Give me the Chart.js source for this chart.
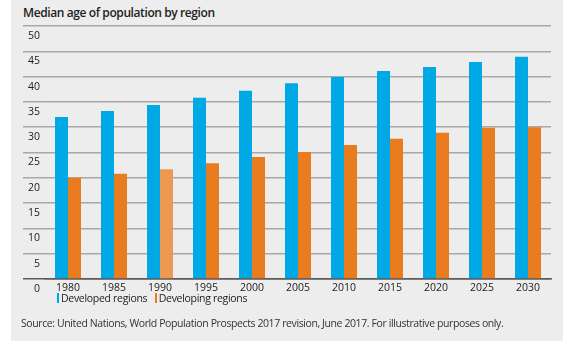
<!DOCTYPE html>
<html>
<head>
<meta charset="utf-8">
<script src="https://cdn.jsdelivr.net/npm/chart.js@4.4.1/dist/chart.umd.min.js"></script>
<style>
 body { margin:0; background:#fff; font-family:"Open Sans", sans-serif; color:#222; }
 #panel { position:absolute; left:11px; top:0; width:552px; height:341px; background:#ededed; }
 #title { position:absolute; left:23px; top:4px; font-size:12px; font-weight:600; letter-spacing:-0.4px; color:#222; white-space:nowrap; }
 #wrap { position:absolute; left:0; top:20px; width:571px; height:280px; }
 #legend { position:absolute; left:57px; top:291px; font-size:10.5px; letter-spacing:-0.3px; color:#222; white-space:nowrap; }
 #legend span.k { display:inline-block; width:2px; height:10px; margin-right:2px; vertical-align:-1px; }
 #legend span.item { margin-right:5px; }
 #source { position:absolute; left:21px; top:316px; font-size:10.5px; letter-spacing:-0.4px; color:#333; white-space:nowrap; }
</style>
</head>
<body>
<div id="panel"></div>
<div id="title">Median age of population by region</div>
<div id="wrap"><canvas id="myChart" width="571" height="280"></canvas></div>
<div id="legend">
 <span class="item"><span class="k" style="background:#00a9e6"></span>Developed regions</span>
 <span class="item"><span class="k" style="background:#e87c1e"></span>Developing regions</span>
</div>
<div id="source">Source: United Nations, World Population Prospects 2017 revision, June 2017. For illustrative purposes only.</div>
<script>
const years = ['1980','1985','1990','1995','2000','2005','2010','2015','2020','2025','2030'];
const developed = [32.0, 33.2, 34.4, 35.8, 37.2, 38.7, 39.9, 41.1, 41.9, 42.9, 43.9];
const developing = [20.0, 20.8, 21.7, 22.9, 24.1, 25.1, 26.5, 27.7, 28.9, 29.9, 30.0];
const yTicks = [0, 5, 10, 15, 20, 25, 30, 35, 40, 45, 50];

// 1990 developing bar is drawn a lighter orange
const devColors = years.map(y => y === '1990' ? '#ec9a52' : '#e87c1e');

const ctx = document.getElementById('myChart').getContext('2d');
const myChart = new Chart(ctx, {
  type: 'bar',
  data: {
    labels: years,
    datasets: [{
      label: 'Developed regions',
      data: developed,
      backgroundColor: '#00a9e6'
    }, {
      label: 'Developing regions',
      data: developing,
      backgroundColor: devColors
    }]
  },
  options: {
    responsive: false,
    animation: false,
    layout: { padding: { left: 0, right: 20, top: 6, bottom: 0 } },
    plugins: { legend: { display: false }, tooltip: { enabled: false } },
    datasets: { bar: { barPercentage: 1, categoryPercentage: 0.565 } },
    scales: {
      x: {
        grid: { display: false, drawTicks: false },
        border: { color: '#5a5a5a', width: 1.5 },
        ticks: { color: '#222', font: { family: 'Open Sans', size: 10.5 }, padding: 3, maxRotation: 0 },
        afterFit: (s) => { s.height = 21; }
      },
      y: {
        min: 0,
        max: 50,
        afterBuildTicks: (s) => { s.ticks = yTicks.map(v => ({ value: v })); },
        afterFit: (s) => { s.width = 45; },
        border: { display: false },
        grid: {
          color: (c) => c.index === 0 ? '#5a5a5a' : '#a8a8a8',
          lineWidth: 1.5,
          tickLength: 22
        },
        ticks: {
          color: '#222',
          font: { family: 'Open Sans', size: 10.5 },
          padding: -17,
          labelOffset: 10
        }
      }
    }
  }
});
</script>
</body>
</html>
